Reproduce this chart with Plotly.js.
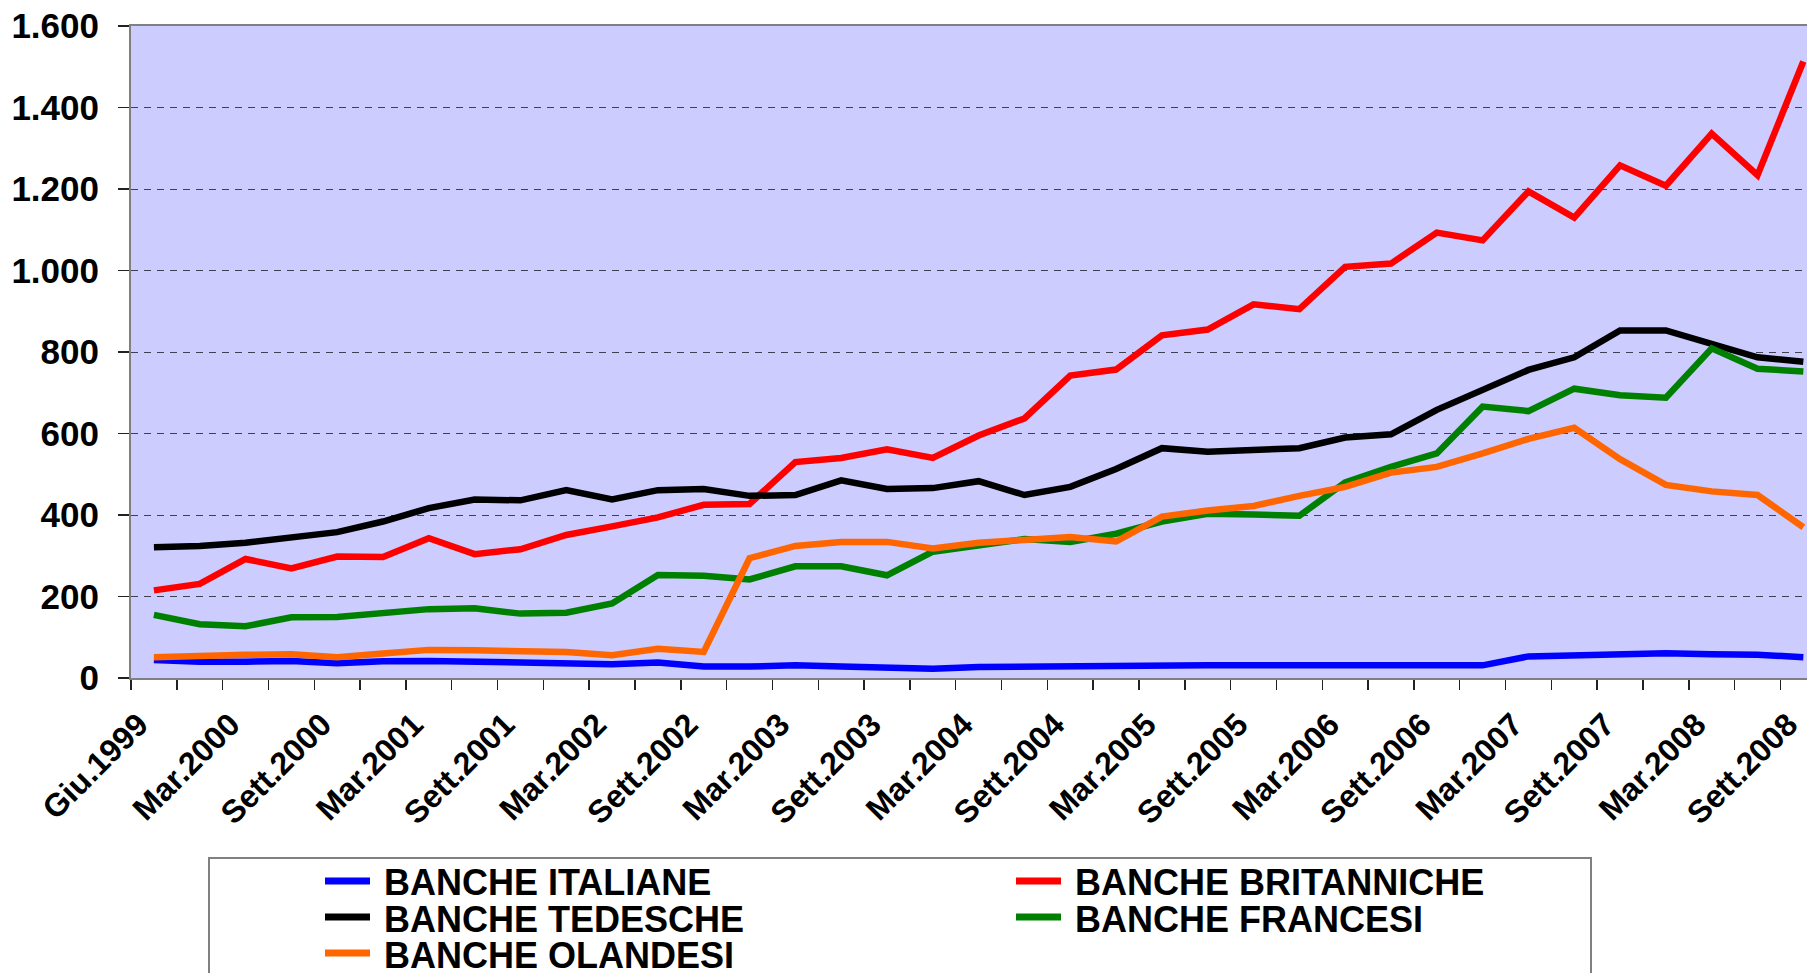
<!DOCTYPE html>
<html>
<head>
<meta charset="utf-8">
<script src="https://cdn.plot.ly/plotly-3.0.1.min.js"></script>
<style>html,body{margin:0;padding:0;background:#fff;}#chart{width:1807px;height:973px;}</style>
</head>
<body>
<div id="chart"></div>
<script>
// ---- data ----
const categories = ["Giu.1999","Dic.1999","Mar.2000","Giu.2000","Sett.2000","Dic.2000","Mar.2001","Giu.2001","Sett.2001","Dic.2001",
  "Mar.2002","Giu.2002","Sett.2002","Dic.2002","Mar.2003","Giu.2003","Sett.2003","Dic.2003","Mar.2004","Giu.2004",
  "Sett.2004","Dic.2004","Mar.2005","Giu.2005","Sett.2005","Dic.2005","Mar.2006","Giu.2006","Sett.2006","Dic.2006",
  "Mar.2007","Giu.2007","Sett.2007","Dic.2007","Mar.2008","Giu.2008","Sett.2008"];
const seriesNames = ["BANCHE ITALIANE","BANCHE BRITANNICHE","BANCHE TEDESCHE","BANCHE FRANCESI","BANCHE OLANDESI"];
const italiane = [44,40,40,42,36,41,42,40,38,33,34,38,28,28,31,28,26,23,27,28,31,31,31,31,31,31,28,28,28,31,53,55,58,61,58,57,51];
const britanniche = [215,231,292,269,298,297,343,304,316,351,372,394,425,427,530,540,561,540,595,637,742,757,841,855,917,905,1009,1017,1093,1074,1194,1130,1258,1208,1336,1234,1513];
const tedesche = [321,324,332,343,358,384,417,438,436,461,438,461,464,447,449,485,464,466,483,449,469,513,564,555,558,564,590,598,658,708,756,787,853,853,820,787,776];
const francesi = [155,132,127,149,150,158,169,171,158,160,183,253,251,242,274,274,252,310,324,341,334,354,384,403,401,398,480,518,551,666,655,710,694,688,809,759,752];
const olandesi = [51,55,57,58,51,60,69,68,66,64,56,72,64,294,324,334,334,318,332,340,346,335,396,411,422,447,469,504,518,551,587,614,537,474,458,449,370];
const yTicks = [0,200,400,600,800,1000,1200,1400,1600];

// ---- styles ----
const seriesValues = [italiane, britanniche, tedesche, francesi, olandesi];
const seriesColors = ["#0000FF","#FF0000","#000000","#008000","#FF6600"];
const FONT = "Liberation Sans, Arial, Helvetica, sans-serif";

const idx = categories.map((c,i)=>i);
const traces = seriesValues.map((vals,k)=>({
  type:'scatter', mode:'lines', name:seriesNames[k],
  x: idx, y: vals,
  line:{color:seriesColors[k], width:6.5},
  hoverinfo:'skip'
}));

// labels every second category; rotated label end sits just left of its category
const LABEL_SHIFT = 0.33;
const labelIdx = idx.filter(i=>i%2===0);
const tickvals = labelIdx.map(i=>i-LABEL_SHIFT);
const ticktext = labelIdx.map(i=>categories[i]);

// layout geometry (pixels) -> paper coords
const W=1807, H=973, ML=131, MR=0, MT=26, MB=295;
const PW=W-ML-MR, PH=H-MT-MB;
const px = v => (v-ML)/PW;
const py = v => (H-MB-v)/PH;

// custom legend (two columns, filled row by row)
const legendCols=[322,1013], legendTextCols=[382,1073], legendRows=[881,917,953];
const shapes=[{type:'rect', xref:'paper', yref:'paper', x0:px(209), x1:px(1591), y0:py(1010), y1:py(858),
  line:{color:'#808080', width:2}, fillcolor:'rgba(0,0,0,0)', layer:'above'}];
const annotations=[];
seriesNames.forEach((n,k)=>{
  const c=k%2, r=Math.floor(k/2);
  shapes.push({type:'line', xref:'paper', yref:'paper', x0:px(legendCols[c]+3), x1:px(legendCols[c]+48),
    y0:py(legendRows[r]), y1:py(legendRows[r]), line:{color:seriesColors[k], width:7}});
  annotations.push({xref:'paper', yref:'paper', x:px(legendTextCols[c]), y:py(legendRows[r]+1.5),
    xanchor:'left', yanchor:'middle', showarrow:false, text:n, height:34,
    font:{family:FONT, size:36, weight:'bold', color:'#000'}});
});

const layout = {
  width:W, height:H,
  margin:{l:ML, r:MR, t:MT, b:MB, pad:0},
  paper_bgcolor:'#FFFFFF', plot_bgcolor:'#CCCCFF',
  separators:',.',
  showlegend:false,
  xaxis:{
    range:[-0.5, 36.08], tickmode:'array', tickvals:tickvals, ticktext:ticktext,
    tickangle:-45, ticks:'', showgrid:false, zeroline:false,
    showline:true, linecolor:'#808080', linewidth:2, mirror:true,
    tickfont:{family:FONT, size:32, weight:'bold', color:'#000'},
    ticklabelstandoff:13, ticklabeloverflow:'allow',
    minor:{ticks:'outside', tick0:-0.5, dtick:1, ticklen:10, tickcolor:'#222', tickwidth:1.5, showgrid:false}
  },
  yaxis:{
    range:[0,1600], tickmode:'array', tickvals:yTicks, tickformat:',d',
    ticks:'outside', ticklen:11, tickcolor:'#222', tickwidth:1.5,
    showline:true, linecolor:'#808080', linewidth:2,
    showgrid:true, gridcolor:'#404050', gridwidth:1, griddash:'7px,6px',
    zeroline:false,
    tickfont:{family:FONT, size:35, weight:'bold', color:'#000'},
    ticklabelstandoff:12
  },
  shapes:shapes, annotations:annotations
};

Plotly.newPlot('chart', traces, layout, {displayModeBar:false, staticPlot:true});
</script>
</body>
</html>
